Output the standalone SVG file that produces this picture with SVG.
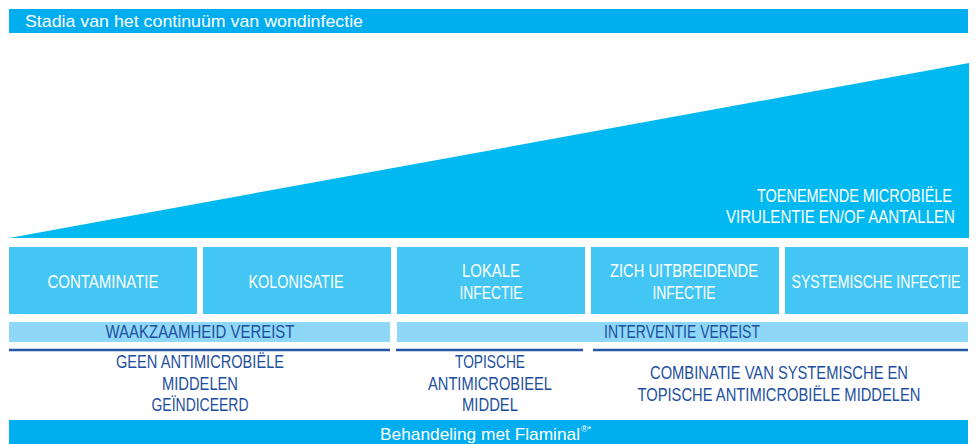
<svg xmlns="http://www.w3.org/2000/svg" width="976" height="444" viewBox="0 0 976 444">
<style>
text{font-family:"Liberation Sans Narrow","Liberation Sans",Arial,sans-serif;}
.w{fill:#ffffff;font-size:18px;}
.t{fill:#ffffff;font-size:17px;}
.d{fill:#1d4f9e;font-size:17.5px;}
.box{fill:#43c6f3;}
.lb{fill:#8fd7f7;}
.ln{stroke:#2357a6;stroke-width:2.5;fill:none;}
</style>
<rect width="976" height="444" fill="#ffffff"/>
<g id="title">
<rect x="9" y="9" width="959" height="24" fill="#00aeef"/>
<text class="t" x="25" y="27" textLength="338" lengthAdjust="spacingAndGlyphs">Stadia van het continuüm van wondinfectie</text>
</g>
<g id="triangle">
<polygon points="9,238 969,63 969,238" fill="#00b9f1"/>
<text class="w" x="952" y="202" text-anchor="end" textLength="195" lengthAdjust="spacingAndGlyphs">TOENEMENDE MICROBIËLE</text>
<text class="w" x="955" y="223" text-anchor="end" textLength="229" lengthAdjust="spacingAndGlyphs">VIRULENTIE EN/OF AANTALLEN</text>
</g>
<g id="contaminatie">
<rect class="box" x="9" y="247" width="188" height="67"/>
<text class="w" x="103" y="288" text-anchor="middle" textLength="111" lengthAdjust="spacingAndGlyphs">CONTAMINATIE</text>
</g>
<g id="kolonisatie">
<rect class="box" x="203" y="247" width="188" height="67"/>
<text class="w" x="296" y="288" text-anchor="middle" textLength="95" lengthAdjust="spacingAndGlyphs">KOLONISATIE</text>
</g>
<g id="lokale">
<rect class="box" x="397" y="247" width="188" height="67"/>
<text class="w" x="491" y="277" text-anchor="middle" textLength="58" lengthAdjust="spacingAndGlyphs">LOKALE</text>
<text class="w" x="491" y="299" text-anchor="middle" textLength="63" lengthAdjust="spacingAndGlyphs">INFECTIE</text>
</g>
<g id="uitbreidende">
<rect class="box" x="591" y="247" width="188" height="67"/>
<text class="w" x="684" y="277" text-anchor="middle" textLength="148" lengthAdjust="spacingAndGlyphs">ZICH UITBREIDENDE</text>
<text class="w" x="684" y="299" text-anchor="middle" textLength="63" lengthAdjust="spacingAndGlyphs">INFECTIE</text>
</g>
<g id="systemische">
<rect class="box" x="785" y="247" width="183" height="67"/>
<text class="w" x="876" y="288" text-anchor="middle" textLength="169" lengthAdjust="spacingAndGlyphs">SYSTEMISCHE INFECTIE</text>
</g>
<g id="waakzaamheid">
<rect class="lb" x="9" y="322" width="381" height="20"/>
<text class="d" x="200" y="338" text-anchor="middle" textLength="189" lengthAdjust="spacingAndGlyphs">WAAKZAAMHEID VEREIST</text>
</g>
<g id="interventie">
<rect class="lb" x="397" y="322" width="571" height="20"/>
<text class="d" x="682" y="338" text-anchor="middle" textLength="156" lengthAdjust="spacingAndGlyphs">INTERVENTIE VEREIST</text>
</g>
<g id="lines">
<line class="ln" x1="9" y1="350" x2="390" y2="350"/>
<line class="ln" x1="396" y1="350" x2="583" y2="350"/>
<line class="ln" x1="593" y1="350" x2="968" y2="350"/>
</g>
<g id="geen">
<text class="d" x="200" y="368" text-anchor="middle" textLength="168" lengthAdjust="spacingAndGlyphs">GEEN ANTIMICROBIËLE</text>
<text class="d" x="200" y="390" text-anchor="middle" textLength="76" lengthAdjust="spacingAndGlyphs">MIDDELEN</text>
<text class="d" x="200" y="411" text-anchor="middle" textLength="97" lengthAdjust="spacingAndGlyphs">GEÏNDICEERD</text>
</g>
<g id="topische">
<text class="d" x="490" y="368" text-anchor="middle" textLength="70" lengthAdjust="spacingAndGlyphs">TOPISCHE</text>
<text class="d" x="490" y="390" text-anchor="middle" textLength="124" lengthAdjust="spacingAndGlyphs">ANTIMICROBIEEL</text>
<text class="d" x="490" y="411" text-anchor="middle" textLength="56" lengthAdjust="spacingAndGlyphs">MIDDEL</text>
</g>
<g id="combinatie">
<text class="d" x="779" y="379" text-anchor="middle" textLength="258" lengthAdjust="spacingAndGlyphs">COMBINATIE VAN SYSTEMISCHE EN</text>
<text class="d" x="779" y="401" text-anchor="middle" textLength="283" lengthAdjust="spacingAndGlyphs">TOPISCHE ANTIMICROBIËLE MIDDELEN</text>
</g>
<g id="behandeling">
<rect x="9" y="420" width="959" height="24" fill="#00aeef"/>
<text class="t" x="380" y="440" textLength="200" lengthAdjust="spacingAndGlyphs">Behandeling met Flaminal</text>
<text class="t" x="581" y="432" style="font-size:9px">®*</text>
</g>
</svg>
